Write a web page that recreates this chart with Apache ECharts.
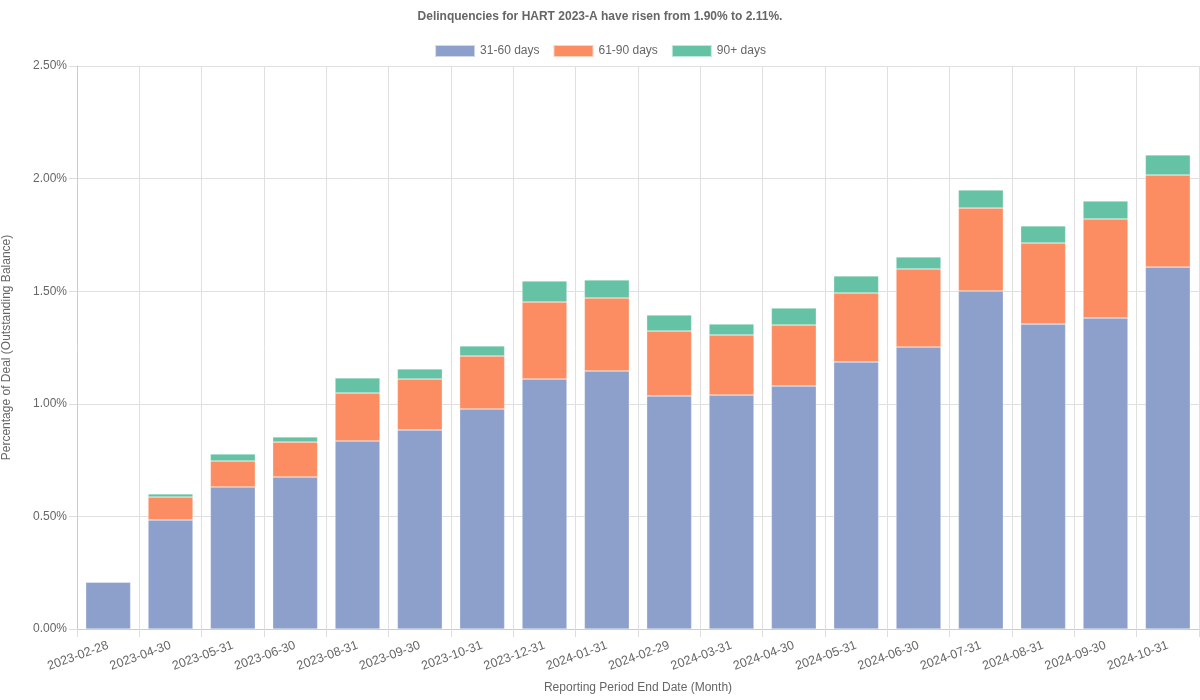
<!DOCTYPE html>
<html><head><meta charset="utf-8">
<script src="https://cdn.jsdelivr.net/npm/echarts@6/dist/echarts.min.js"></script>
<style>html,body{margin:0;padding:0;background:#fff}#c{width:1200px;height:700px}</style>
</head><body><div id="c"></div>
<script>
const categories = ['2023-02-28','2023-04-30','2023-05-31','2023-06-30','2023-08-31','2023-09-30','2023-10-31','2023-12-31','2024-01-31','2024-02-29','2024-03-31','2024-04-30','2024-05-31','2024-06-30','2024-07-31','2024-08-31','2024-09-30','2024-10-31'];
const d31_60 = [0.209,0.484,0.631,0.675,0.835,0.884,0.977,1.110,1.146,1.035,1.039,1.079,1.186,1.252,1.501,1.354,1.381,1.607];
const d61_90 = [0,0.102,0.115,0.155,0.213,0.226,0.235,0.342,0.324,0.288,0.267,0.271,0.306,0.347,0.368,0.360,0.440,0.409];
const d90p = [0,0.014,0.031,0.023,0.067,0.045,0.045,0.093,0.080,0.071,0.048,0.075,0.076,0.053,0.080,0.076,0.079,0.089];
const seriesNames = ['31-60 days','61-90 days','90+ days'];
const colors = ['#8da0cb','#fc8d62','#66c2a5'];
const chart = echarts.init(document.getElementById('c'));
const font = 'Liberation Sans, Arial, sans-serif';
chart.setOption({
  animation:false,
  textStyle:{fontFamily:font},
  title:{text:'Delinquencies for HART 2023-A have risen from 1.90% to 2.11%.',left:'center',top:6,
    textStyle:{fontSize:12,fontWeight:'bold',color:'#666',fontFamily:font}},
  legend:{top:39,left:'center',itemWidth:40,itemHeight:12,itemGap:13,icon:'rect',
    textStyle:{fontSize:12,color:'#666',fontFamily:font},data:seriesNames},
  grid:{left:77,right:1,top:66,bottom:71,containLabel:false,outerBoundsMode:'none'},
  xAxis:{type:'category',data:categories,boundaryGap:true,
    name:'Reporting Period End Date (Month)',nameLocation:'middle',nameGap:53,
    nameTextStyle:{fontSize:12,color:'#666',fontFamily:font},
    axisLine:{lineStyle:{color:'#ccc'}},
    axisTick:{show:true,alignWithLabel:false,length:8,lineStyle:{color:'#ddd'}},
    splitLine:{show:true,lineStyle:{color:'#e0e0e0'}},
    axisLabel:{rotate:20,fontSize:12.5,color:'#666',interval:0,margin:16,fontFamily:font}},
  yAxis:{type:'value',min:0,max:2.5,interval:0.5,
    name:'Percentage of Deal (Outstanding Balance)',nameLocation:'middle',nameGap:64,
    nameTextStyle:{fontSize:12,color:'#666',fontFamily:font},
    axisLine:{show:true,lineStyle:{color:'#ccc'}},
    axisTick:{show:true,length:8,lineStyle:{color:'#ddd'}},
    splitLine:{lineStyle:{color:'#e0e0e0'}},
    axisLabel:{formatter:v=>v.toFixed(2)+'%',fontSize:12,color:'#666',margin:10,fontFamily:font}},
  series:[d31_60,d61_90,d90p].map((d,i)=>({
    name:seriesNames[i],type:'bar',stack:'total',data:d,barWidth:'72%',
    itemStyle:{color:colors[i],borderColor:'rgba(255,255,255,0.6)',borderWidth:0.5}
  }))
});
</script></body></html>
